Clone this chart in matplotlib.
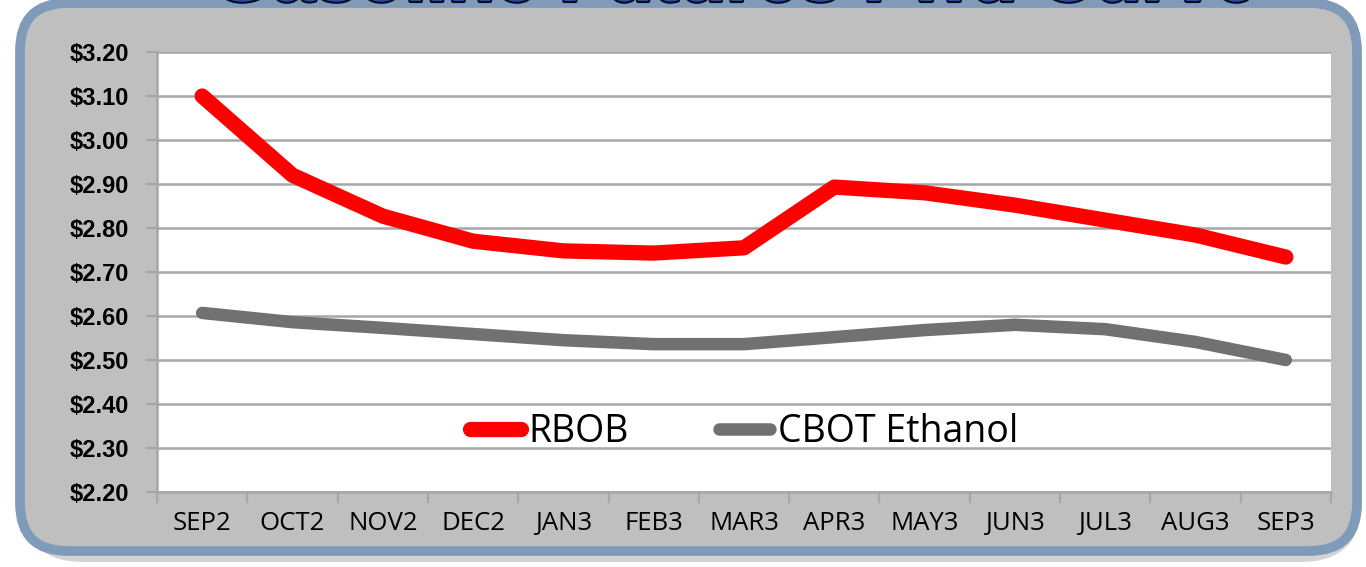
import matplotlib
matplotlib.use("Agg")
import matplotlib.pyplot as plt
from matplotlib.patches import FancyBboxPatch
import matplotlib.patheffects as pe

months = ["SEP2", "OCT2", "NOV2", "DEC2", "JAN3", "FEB3", "MAR3",
          "APR3", "MAY3", "JUN3", "JUL3", "AUG3", "SEP3"]
rbob = [3.10, 2.92, 2.827, 2.77, 2.748, 2.743, 2.755,
        2.893, 2.88, 2.852, 2.818, 2.784, 2.734]
ethanol = [2.607, 2.586, 2.573, 2.559, 2.545, 2.536, 2.536,
           2.552, 2.568, 2.580, 2.570, 2.541, 2.50]
yticks = [2.20, 2.30, 2.40, 2.50, 2.60, 2.70, 2.80, 2.90, 3.00, 3.10, 3.20]
title = "Gasoline Futures Fwd Curve"

W, H = 1366, 567
fig = plt.figure(figsize=(W / 100, H / 100), dpi=100)
fig.patch.set_facecolor("white")

# shadow + rounded frame
shadow = FancyBboxPatch((22 / W, 5 / H), 1340 / W, 555 / H,
                        boxstyle="round,pad=0,rounding_size=0.045",
                        transform=fig.transFigure, facecolor="#d3d3d3",
                        edgecolor="none", zorder=0, mutation_aspect=W / H)
fig.add_artist(shadow)
frame = FancyBboxPatch((20 / W, 16 / H), 1337 / W, 548 / H,
                       boxstyle="round,pad=0,rounding_size=0.035",
                       transform=fig.transFigure, facecolor="#bfbfbf",
                       edgecolor="#7f9bb9", linewidth=7, zorder=1,
                       mutation_aspect=W / H)
fig.add_artist(frame)

ax = fig.add_axes([157 / W, 1 - 492 / H, (1331 - 157) / W, (492 - 52) / H])
ax.set_zorder(2)
ax.set_facecolor("white")
x = list(range(len(months)))
ax.plot(x, rbob, color="#ff0000", lw=11, solid_capstyle="round",
        solid_joinstyle="round", label="RBOB", zorder=3)
ax.plot(x, ethanol, color="#717171", lw=9, solid_capstyle="round",
        solid_joinstyle="round", label="CBOT Ethanol", zorder=3)

ax.set_xlim(-0.5, len(months) - 0.5)
ax.set_ylim(2.20, 3.20)
ax.set_yticks(yticks)
ax.set_yticklabels(["$%.2f" % v for v in yticks], fontweight="bold",
                   fontsize=17, family="Liberation Sans")
ax.yaxis.grid(True, color="#a6a6a6", lw=1.8)
ax.set_axisbelow(True)

ax.set_xticks([i - 0.5 for i in range(len(months) + 1)])
ax.set_xticklabels([])
ax.set_xticks(x, minor=True)
ax.set_xticklabels(months, minor=True, fontsize=18.5, family="Open Sans")
ax.tick_params(axis="x", which="minor", length=0, pad=14)
ax.tick_params(axis="x", which="major", length=8, color="#a6a6a6", width=1.5)
ax.tick_params(axis="y", length=8, color="#a6a6a6", width=1.5, pad=12)

for s in ["top", "right"]:
    ax.spines[s].set_visible(False)
for s in ["left", "bottom"]:
    ax.spines[s].set_color("#a6a6a6")
    ax.spines[s].set_linewidth(1.8)

leg = ax.legend(loc="center", bbox_to_anchor=(0.5, 0.136), ncol=2,
                frameon=False, prop={"family": "Open Sans", "size": 27},
                handlelength=1.36, handletextpad=0.2, columnspacing=2.4)

fig.text(0.538, 1 - 1 / H, title, ha="center", va="baseline", fontsize=55.5,
         fontweight="bold", color="#2a4a9c", family="Liberation Sans",
         path_effects=[pe.withStroke(linewidth=3, foreground="#0a0a20")],
         zorder=5)

fig.savefig("out.png", dpi=100)
